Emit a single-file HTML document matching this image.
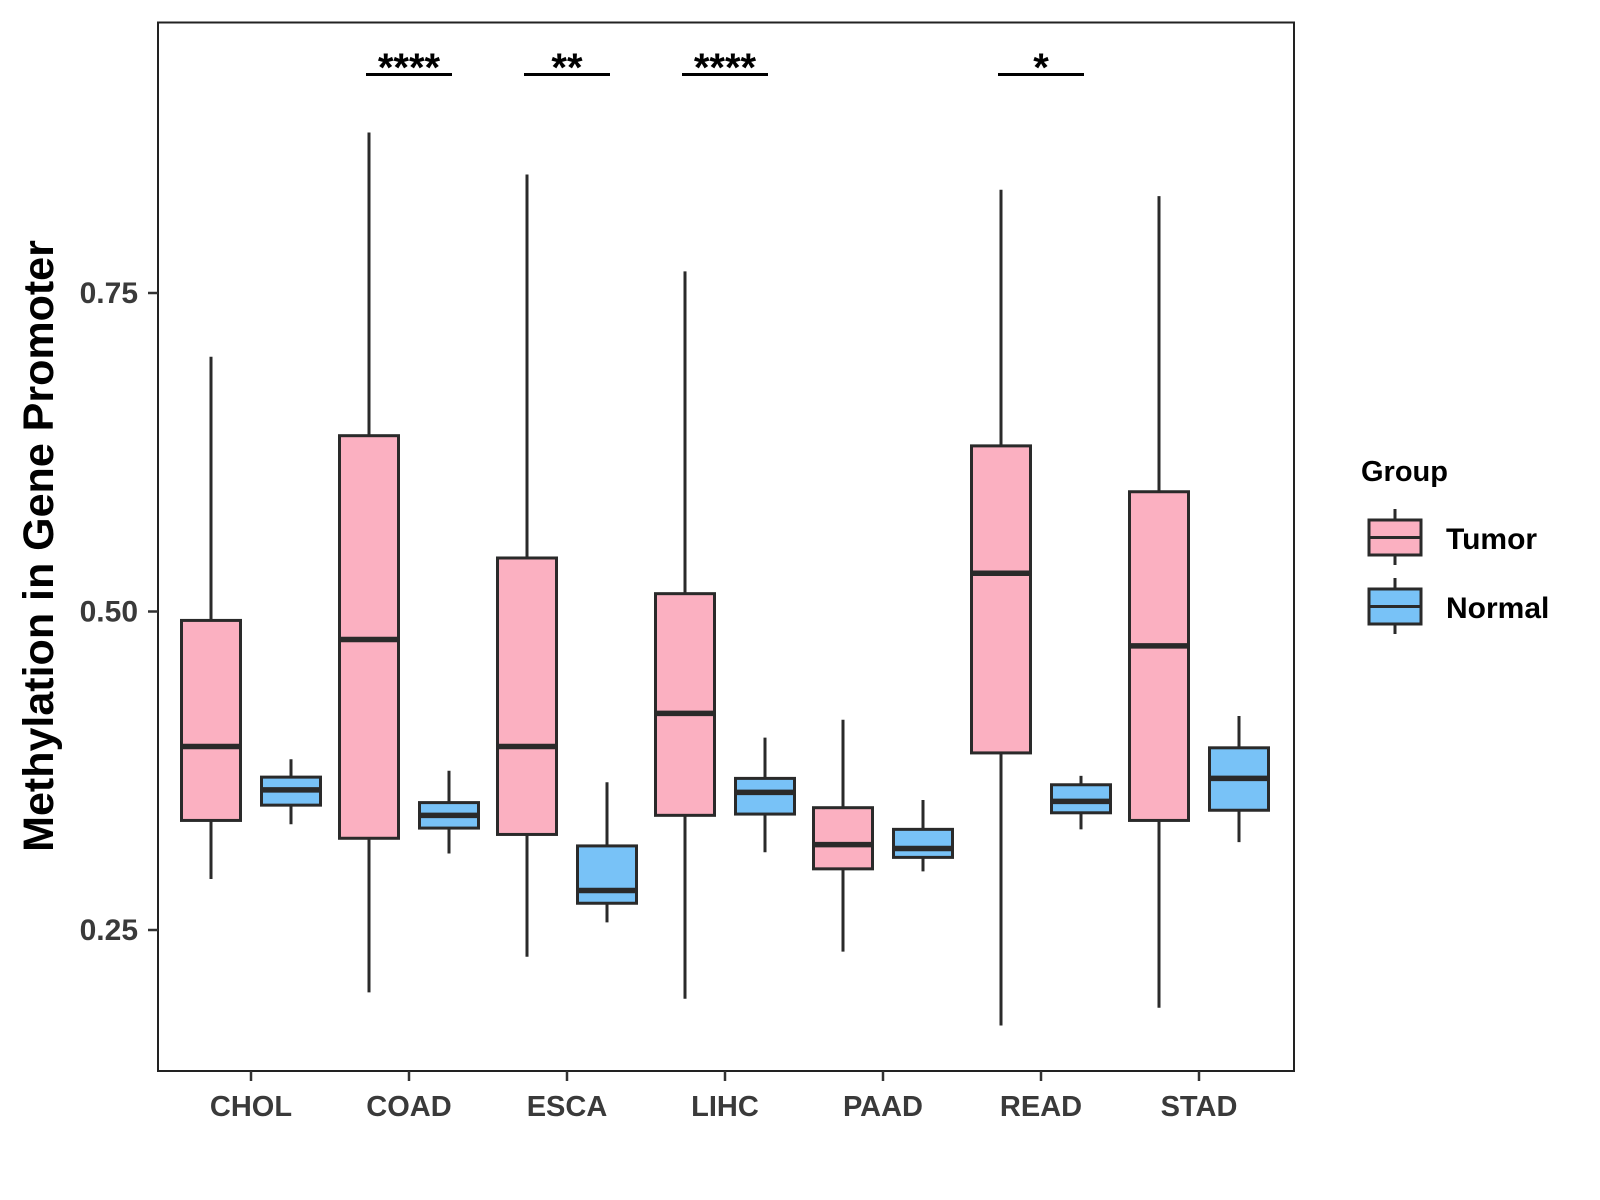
<!DOCTYPE html>
<html><head><meta charset="utf-8"><style>
html,body{margin:0;padding:0;background:#fff;}
svg{display:block;font-family:"Liberation Sans",Arial,sans-serif;}
</style></head><body>
<svg id="chart" width="1600" height="1200" viewBox="0 0 1600 1200">
<rect x="158" y="22.5" width="1136" height="1048.5" fill="#fff" stroke="#222" stroke-width="2"/>
<g id="marks"></g>
<g id="axes"></g>
<text transform="translate(53,546) rotate(-90)" text-anchor="middle" font-size="43" font-weight="bold" fill="#000">Methylation in Gene Promoter</text>
<text x="1361" y="481" font-size="29" font-weight="bold" fill="#000">Group</text>
<g>
<line x1="1395" y1="509" x2="1395" y2="565" stroke="#2a2a2a" stroke-width="3"/>
<rect x="1369" y="520" width="52" height="35" fill="#FBB0C1" stroke="#2a2a2a" stroke-width="3"/>
<line x1="1369" y1="537.5" x2="1421" y2="537.5" stroke="#2a2a2a" stroke-width="3"/>
<text x="1446" y="549" font-size="30" font-weight="bold" fill="#000">Tumor</text>
</g>
<g>
<line x1="1395" y1="578" x2="1395" y2="634" stroke="#2a2a2a" stroke-width="3"/>
<rect x="1369" y="589" width="52" height="35" fill="#78C2F7" stroke="#2a2a2a" stroke-width="3"/>
<line x1="1369" y1="606.5" x2="1421" y2="606.5" stroke="#2a2a2a" stroke-width="3"/>
<text x="1446" y="618" font-size="30" font-weight="bold" fill="#000">Normal</text>
</g>
</svg>
<script>
const categories = ["CHOL","COAD","ESCA","LIHC","PAAD","READ","STAD"];
const tumorLow = [0.290,0.201,0.229,0.196,0.233,0.175,0.189];
const tumorQ1 = [0.336,0.322,0.325,0.340,0.298,0.389,0.336];
const tumorMed = [0.394,0.478,0.394,0.420,0.317,0.530,0.473];
const tumorQ3 = [0.493,0.638,0.542,0.514,0.346,0.630,0.594];
const tumorHigh = [0.700,0.876,0.843,0.767,0.415,0.831,0.826];
const normalLow = [0.333,0.310,0.256,0.311,0.296,0.329,0.319];
const normalQ1 = [0.348,0.330,0.271,0.341,0.307,0.342,0.344];
const normalMed = [0.360,0.340,0.281,0.358,0.314,0.351,0.369];
const normalQ3 = [0.370,0.350,0.316,0.369,0.329,0.364,0.393];
const normalHigh = [0.384,0.375,0.366,0.401,0.352,0.371,0.418];
const yTicks = [0.25,0.50,0.75];
const yTickLabels = ["0.25","0.50","0.75"];
const sigCategories = ["COAD","ESCA","LIHC","READ"];
const sigLabels = ["****","**","****","*"];

const NS="http://www.w3.org/2000/svg";
const y = v => 930 - (v-0.25)*1274;
const x = i => 251 + i*158;
const marks=document.getElementById('marks'), axes=document.getElementById('axes');
function mk(tag, attrs, parent){const e=document.createElementNS(NS,tag);for(const k in attrs)e.setAttribute(k,attrs[k]);parent.appendChild(e);return e;}
const LC="#2a2a2a";
function box(cx,lo,q1,md,q3,hi,fill,name){
  const g=mk('g',{},marks);
  
  
  mk('line',{x1:cx,x2:cx,y1:y(hi),y2:y(lo),stroke:LC,'stroke-width':3},g);
  mk('rect',{x:cx-29.5,y:y(q3),width:59,height:y(q1)-y(q3),fill:fill,stroke:LC,'stroke-width':3},g);
  mk('line',{x1:cx-29.5,x2:cx+29.5,y1:y(md),y2:y(md),stroke:LC,'stroke-width':5.5},g);
}
categories.forEach((c,i)=>{
  box(x(i)-40,tumorLow[i],tumorQ1[i],tumorMed[i],tumorQ3[i],tumorHigh[i],"#FBB0C1","box-tumor-"+c.toLowerCase());
  box(x(i)+40,normalLow[i],normalQ1[i],normalMed[i],normalQ3[i],normalHigh[i],"#78C2F7","box-normal-"+c.toLowerCase());
  const t=mk('line',{x1:x(i),x2:x(i),y1:1071,y2:1081,stroke:"#333",'stroke-width':2.5},axes);
  
  
  const l=mk('text',{x:x(i),y:1116,'text-anchor':'middle','font-size':29,'font-weight':'bold',fill:'#3a3a3a'},axes);
  l.textContent=c;
  
  
});
yTicks.forEach((v,i)=>{
  const t=mk('line',{x1:148,x2:158,y1:y(v),y2:y(v),stroke:"#333",'stroke-width':2.5},axes);
  
  
  const l=mk('text',{x:138,y:y(v)+10,'text-anchor':'end','font-size':30,'font-weight':'bold',fill:'#3a3a3a'},axes);
  l.textContent=yTickLabels[i];
  
  
});
sigCategories.forEach((c,j)=>{
  const i=categories.indexOf(c);
  const ln=mk('line',{x1:x(i)-43,x2:x(i)+43,y1:74.5,y2:74.5,stroke:"#000",'stroke-width':3},marks);
  
  
  const t=mk('text',{x:x(i),y:81,'text-anchor':'middle','font-size':40,'font-weight':'bold',fill:'#000'},marks);
  t.textContent=sigLabels[j];
  
  
});
</script>
</body></html>
